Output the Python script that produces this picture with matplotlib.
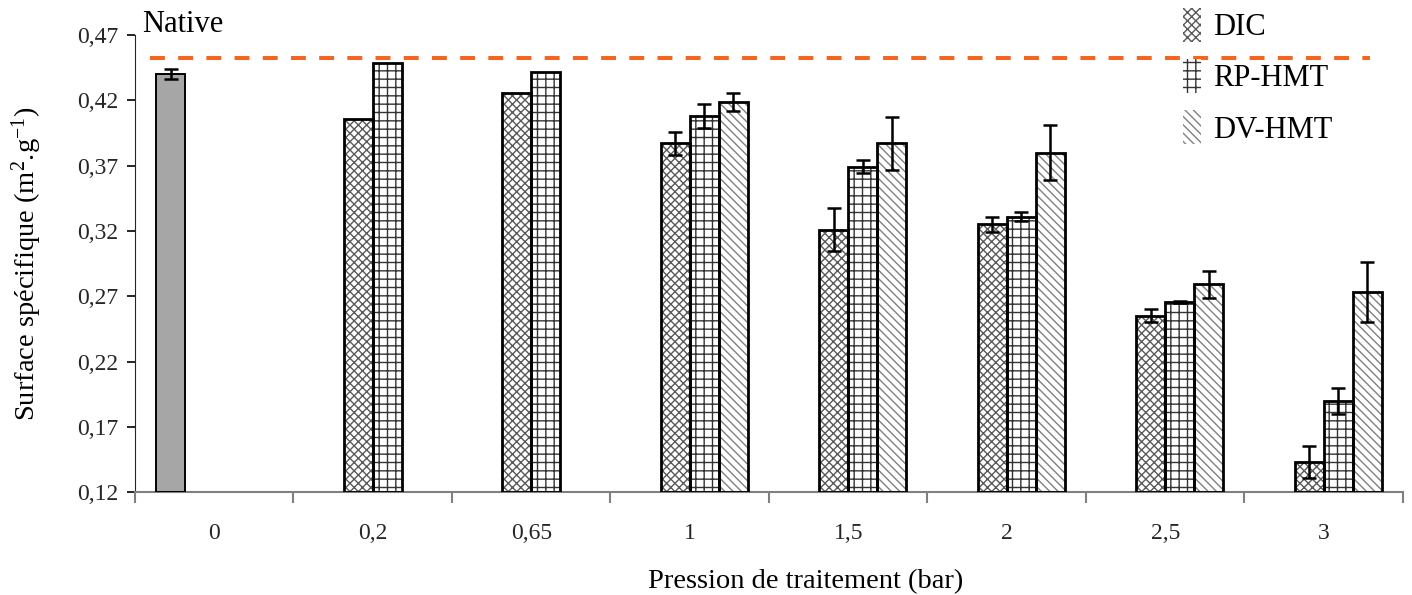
import numpy as np
import matplotlib

matplotlib.use("Agg")
import matplotlib.pyplot as plt

# data (nan = no bar)
pressures = ["0", "0,2", "0,65", "1", "1,5", "2", "2,5", "3"]
native = [0.440, np.nan, np.nan, np.nan, np.nan, np.nan, np.nan, np.nan]
native_err = [0.004, 0, 0, 0, 0, 0, 0, 0]
dic = [np.nan, 0.406, 0.426, 0.387, 0.321, 0.325, 0.255, 0.143]
dic_err = [0, 0, 0, 0.009, 0.0165, 0.006, 0.005, 0.012]
rp_hmt = [np.nan, 0.449, 0.442, 0.408, 0.369, 0.331, 0.2655, 0.190]
rp_hmt_err = [0, 0, 0, 0.0095, 0.005, 0.0035, 0.001, 0.010]
dv_hmt = [np.nan, np.nan, np.nan, 0.419, 0.387, 0.380, 0.279, 0.273]
dv_hmt_err = [0, 0, 0, 0.007, 0.020, 0.021, 0.010, 0.023]
native_level = 0.4524
yticks = [0.12, 0.17, 0.22, 0.27, 0.32, 0.37, 0.42, 0.47]

plt.rcParams.update({
    "font.family": ["Liberation Serif", "DejaVu Serif"],
    "mathtext.fontset": "custom",
    "mathtext.rm": "Liberation Serif",
    "mathtext.it": "Liberation Serif:italic",
    "hatch.linewidth": 1.0,
})

fig = plt.figure(figsize=(14.12, 5.95), dpi=100)
ax = fig.add_axes([0.0956, 0.173, 0.898, 0.768])

x = np.arange(len(pressures))
w = 0.183
BASE = 0.12


def hatched(xpos, vals, errs, hatch, hcolor, label):
    vals = np.asarray(vals, dtype=float)
    heights = vals - BASE
    ax.bar(xpos, heights, w, bottom=BASE, color="white", edgecolor=hcolor,
           hatch=hatch, linewidth=0, zorder=2)
    ax.bar(xpos, heights, w, bottom=BASE, fill=False, edgecolor="black",
           linewidth=2.0, zorder=3)
    errs = np.asarray(errs, dtype=float)
    mask = ~np.isnan(vals) & (errs > 0)
    ax.errorbar(xpos[mask], vals[mask], yerr=errs[mask], fmt="none",
                ecolor="black", elinewidth=1.8, capsize=5, capthick=1.8, zorder=4)
    return ax.bar([0], [0], w, bottom=np.nan, facecolor="white", edgecolor=hcolor,
                  hatch=hatch, linewidth=0, label=label)


# native bar
nv = np.asarray(native, dtype=float)
ax.bar(x - 1.5 * w, nv - BASE, w, bottom=BASE, color="#a6a6a6",
       edgecolor="black", linewidth=1.4, zorder=3)
ax.errorbar(x[:1] - 1.5 * w, nv[:1], yerr=native_err[:1], fmt="none",
            ecolor="black", elinewidth=1.8, capsize=5, capthick=1.8, zorder=4)

h1 = hatched(x - 0.5 * w, dic, dic_err, "xxxx", "#5a5a5a", "DIC")
h2 = hatched(x + 0.5 * w, rp_hmt, rp_hmt_err, "++", "#333333", "RP-HMT")
h3 = hatched(x + 1.5 * w, dv_hmt, dv_hmt_err, "\\\\\\\\", "#808080", "DV-HMT")

ax.plot([-0.405, 7.29], [native_level, native_level], color="#f26522",
        linewidth=2.9, dashes=(3.7, 3.3), zorder=5)

ax.set_xlim(-0.5, 7.5)
ax.set_ylim(0.12, 0.47)
ax.set_yticks(yticks)
ax.set_yticklabels([f"{t:.2f}".replace(".", ",") for t in yticks])
ax.set_xticks(np.arange(-0.5, 8.0, 1.0))
ax.set_xticklabels([])
ax.set_xticks(x, minor=True)
ax.set_xticklabels(pressures, minor=True)
ax.tick_params(axis="x", which="major", length=8, width=1.5, color="#808080")
ax.tick_params(axis="x", which="minor", length=0, pad=22, labelsize=17,
               labelcolor="#262626")
ax.tick_params(axis="y", length=6, width=1.2, pad=6, labelsize=17,
               labelcolor="#262626")
for side in ("top", "right"):
    ax.spines[side].set_visible(False)
ax.spines["bottom"].set_color("#808080")
ax.spines["bottom"].set_linewidth(1.5)
ax.spines["left"].set_color("#262626")

ax.set_ylabel(r"Surface spécifique (m$^{2}$.g$^{-1}$)", fontsize=20.5, labelpad=24)
ax.set_xlabel("Pression de traitement (bar)", fontsize=20.5, va="center")
ax.xaxis.set_label_coords(0.529, -0.195)

fig.text(0.101, 1 - 32 / 595, "Native", fontsize=22, ha="left", va="baseline")

fig.legend(handles=[h1, h2, h3], loc="upper left", bbox_to_anchor=(0.818, 1.033),
           frameon=False, fontsize=22, handlelength=0.6, handleheight=1.35,
           handletextpad=0.4, labelspacing=0.55)

fig.savefig("out.png", dpi=100)
